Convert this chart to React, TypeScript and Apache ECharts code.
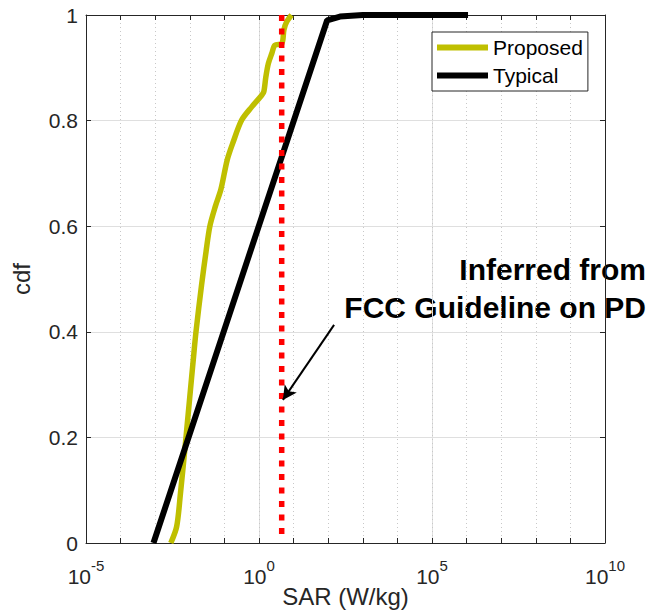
import React, { useEffect, useRef } from 'react';
import * as echarts from 'echarts';

// Proposed CDF (SAR in W/kg vs cumulative probability)
const proposedSAR = [2.82e-3, 4.17e-3, 5.37e-3, 7.76e-3, 1.26e-2, 1.51e-2, 2.19e-2, 2.95e-2, 3.8e-2, 5.5e-2, 7.94e-2, 0.12, 0.174, 0.316, 0.617, 1.2, 1.38, 1.58, 1.86, 2.34, 2.88, 4.57, 5.25, 6.31, 8.71];
const proposedCDF = [0, 0.031, 0.094, 0.2, 0.347, 0.4, 0.489, 0.552, 0.6, 0.638, 0.67, 0.725, 0.757, 0.801, 0.826, 0.848, 0.855, 0.883, 0.908, 0.927, 0.943, 0.946, 0.972, 0.987, 1.0];

// Typical CDF
const typicalSAR = [8.91e-4, 93.3, 219, 1000, 1.1e6];
const typicalCDF = [0, 0.99, 0.997, 1, 1];

// FCC guideline (vertical dotted line)
const fccSAR = 4.53;
const fccCDF = [1, 0.015];

// Annotation arrow (data coordinates)
const arrowFrom = [148, 0.413];
const arrowTo = [4.9, 0.271];

// Axis ticks
const xExpMin = -5;
const xExpMax = 10;
const xMajorStep = 5;
const yTicksStep = 0.2;

const seriesNames = ['Proposed', 'Typical'];
const annotationLines = ['Inferred from', 'FCC Guideline on PD'];

export default function App() {
  const ref = useRef<HTMLDivElement>(null);
  useEffect(() => {
    const chart = echarts.init(ref.current as HTMLDivElement, null, { renderer: 'svg' });
    const font = '"Liberation Sans", Arial, Helvetica, sans-serif';
    const axisColor = '#262626';
    const majorGrid = '#dfdfdf';
    const minorGrid = '#c8c8c8';

    chart.setOption({
      animation: false,
      backgroundColor: '#ffffff',
      textStyle: { fontFamily: font },
      grid: { left: 86, right: 57, top: 15, bottom: 73, containLabel: false, outerBoundsMode: 'none' },
      legend: {
        data: seriesNames,
        orient: 'vertical',
        left: 432,
        top: 32,
        padding: 5,
        itemGap: 7,
        itemWidth: 51,
        itemHeight: 6,
        icon: 'rect',
        selectedMode: false,
        textStyle: { fontSize: 21, lineHeight: 21, color: '#000', fontFamily: font },
        borderColor: axisColor,
        borderWidth: 1,
        borderRadius: 0,
        backgroundColor: '#ffffff',
      },
      xAxis: [
        {
          type: 'log',
          logBase: 10,
          min: Math.pow(10, xExpMin),
          max: Math.pow(10, xExpMax),
          position: 'bottom',
          show: false,
          axisLine: { show: false, onZero: false },
          splitLine: { show: false },
        },
        {
          type: 'value',
          min: xExpMin,
          max: xExpMax,
          interval: xMajorStep,
          position: 'bottom',
          name: 'SAR (W/kg)',
          nameLocation: 'middle',
          nameGap: 41,
          nameMoveOverlap: false,
          nameTextStyle: { fontSize: 24, color: axisColor, fontFamily: font },
          axisLine: { show: true, onZero: false, lineStyle: { color: axisColor, width: 1 } },
          axisTick: { show: false },
          axisLabel: {
            margin: 1,
            formatter: (v: number) => `{b|10}{s|${v}}`,
            rich: {
              b: { fontSize: 21, lineHeight: 21, verticalAlign: 'bottom', color: axisColor, fontFamily: font },
              s: { fontSize: 15, lineHeight: 43, verticalAlign: 'middle', color: axisColor, fontFamily: font },
            },
          },
          splitLine: { show: true, lineStyle: { color: majorGrid, width: 1 } },
        },
        {
          type: 'value',
          min: xExpMin,
          max: xExpMax,
          interval: 1,
          position: 'bottom',
          axisLine: { show: false, onZero: false },
          axisTick: { show: true, inside: true, length: 5, lineStyle: { color: axisColor } },
          axisLabel: { show: false },
          splitLine: { show: true, lineStyle: { color: minorGrid, width: 1, type: [1, 3] } },
        },
        {
          type: 'value',
          min: xExpMin,
          max: xExpMax,
          interval: 1,
          position: 'top',
          axisLine: { show: true, onZero: false, lineStyle: { color: axisColor, width: 1 } },
          axisTick: { show: true, inside: true, length: 5, lineStyle: { color: axisColor } },
          axisLabel: { show: false },
          splitLine: { show: false },
        },
      ],
      yAxis: [
        {
          type: 'value',
          min: 0,
          max: 1,
          interval: yTicksStep,
          position: 'left',
          name: 'cdf',
          nameLocation: 'middle',
          nameGap: 53,
          nameMoveOverlap: false,
          nameRotate: 90,
          nameTextStyle: { fontSize: 24, color: axisColor, fontFamily: font },
          axisLine: { show: true, onZero: false, lineStyle: { color: axisColor, width: 1 } },
          axisTick: { show: true, inside: true, length: 5, lineStyle: { color: axisColor } },
          axisLabel: { fontSize: 21, color: axisColor, margin: 8, padding: [5, 0, 0, 0], fontFamily: font },
          splitLine: { show: true, lineStyle: { color: majorGrid, width: 1 } },
        },
        {
          type: 'value',
          min: 0,
          max: 1,
          interval: yTicksStep,
          position: 'right',
          axisLine: { show: true, onZero: false, lineStyle: { color: axisColor, width: 1 } },
          axisTick: { show: true, inside: true, length: 5, lineStyle: { color: axisColor } },
          axisLabel: { show: false },
          splitLine: { show: false },
        },
      ],
      series: [
        {
          name: seriesNames[0],
          type: 'line',
          xAxisIndex: 0,
          yAxisIndex: 0,
          data: proposedSAR.map((x, i) => [x, proposedCDF[i]]),
          symbol: 'none',
          showSymbol: false,
          clip: false,
          smooth: 0.3,
          lineStyle: { color: '#bfbf00', width: 5.5 },
          itemStyle: { color: '#bfbf00' },
        },
        {
          name: seriesNames[1],
          type: 'line',
          xAxisIndex: 0,
          yAxisIndex: 0,
          data: typicalSAR.map((x, i) => [x, typicalCDF[i]]),
          symbol: 'none',
          showSymbol: false,
          clip: false,
          lineStyle: { color: '#000000', width: 6 },
          itemStyle: { color: '#000000' },
        },
        {
          name: 'FCC',
          type: 'line',
          xAxisIndex: 0,
          yAxisIndex: 0,
          data: fccCDF.map((c) => [fccSAR, c]),
          symbol: 'none',
          showSymbol: false,
          clip: false,
          lineStyle: { color: '#ff0000', width: 5.5, type: [6, 7.5], cap: 'butt' },
          itemStyle: { color: '#ff0000' },
          markLine: {
            silent: true,
            symbol: ['none', 'arrow'],
            symbolSize: [11, 14],
            label: { show: false },
            lineStyle: { color: '#000000', width: 2, type: 'solid' },
            itemStyle: { color: '#000000' },
            emphasis: { disabled: true },
            data: [[{ coord: arrowFrom }, { coord: arrowTo }]],
          },
        },
      ],
      graphic: [
        {
          type: 'text',
          x: 646,
          y: 269.6,
          style: { text: annotationLines[0], font: `bold 30px ${font}`, fill: '#000', align: 'right', verticalAlign: 'middle' },
        },
        {
          type: 'text',
          x: 646,
          y: 307.6,
          style: { text: annotationLines[1], font: `bold 30px ${font}`, fill: '#000', align: 'right', verticalAlign: 'middle' },
        },
      ],
    });
    return () => chart.dispose();
  }, []);
  return <div ref={ref} style={{ position: 'absolute', left: 0, top: 0, width: 662, height: 616 }} />;
}
